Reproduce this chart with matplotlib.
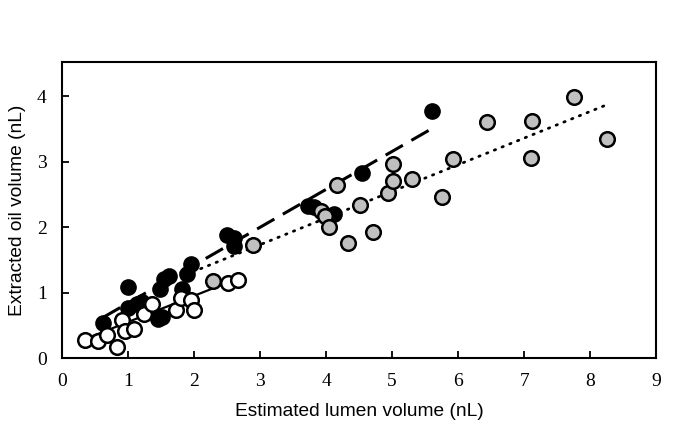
import numpy as np
import matplotlib
matplotlib.use("Agg")
import matplotlib.pyplot as plt

# black filled circles (dashed fit)
black_x = [0.62, 1.00, 1.00, 1.14, 1.21, 1.46, 1.52, 1.49, 1.55, 1.62, 1.82, 1.90, 1.96,
           2.50, 2.60, 2.60, 3.72, 3.82, 4.12, 4.55, 5.60]
black_y = [0.54, 1.08, 0.77, 0.83, 0.86, 0.60, 0.63, 1.06, 1.20, 1.26, 1.05, 1.29, 1.44,
           1.88, 1.83, 1.71, 2.32, 2.30, 2.20, 2.83, 3.78]

# open circles (solid fit)
open_x = [0.35, 0.55, 0.68, 0.83, 0.91, 0.95, 1.09, 1.24, 1.37, 1.72, 1.80, 1.95, 2.00,
          2.51, 2.66]
open_y = [0.28, 0.26, 0.35, 0.17, 0.58, 0.42, 0.44, 0.68, 0.83, 0.73, 0.91, 0.89, 0.73,
          1.14, 1.19]

# grey circles (dotted fit)
grey_x = [2.28, 2.89, 3.93, 3.98, 4.04, 4.16, 4.33, 4.51, 4.71, 4.93, 5.02, 5.02, 5.30,
          5.75, 5.92, 6.44, 7.10, 7.12, 7.76, 8.25]
grey_y = [1.17, 1.73, 2.24, 2.17, 2.00, 2.64, 1.75, 2.34, 1.93, 2.52, 2.96, 2.71, 2.74,
          2.46, 3.04, 3.61, 3.05, 3.62, 3.98, 3.34]

# regression lines: slope, intercept, x range
fit_black = (0.579, 0.26, 0.62, 5.60)
fit_open = (0.40, 0.15, 0.35, 2.66)
fit_grey = (0.407, 0.51, 2.10, 8.24)

fig = plt.figure(figsize=(6.85, 4.34), dpi=100)
ax = fig.add_axes([0.0905, 0.175, 0.8675, 0.682])

def fit_line(fit, **kw):
    m, b, x0, x1 = fit
    xs = np.array([x0, x1])
    ax.plot(xs, m * xs + b, color="black", zorder=1, **kw)

fit_line(fit_black, lw=2.2, dashes=(6.5, 3.2))
fit_line(fit_open, lw=1.6)
fit_line(fit_grey, lw=2.0, linestyle=(0, (0.5, 2.5)), dash_capstyle="round")

ms = 10.5
ax.plot(black_x, black_y, "o", ms=ms, mfc="black", mec="black", mew=1.5, zorder=2)
ax.plot(open_x, open_y, "o", ms=ms, mfc="white", mec="black", mew=1.8, zorder=3)
ax.plot(grey_x, grey_y, "o", ms=ms, mfc="#c0c0c0", mec="black", mew=1.8, zorder=4)

ax.set_xlim(0, 9)
ax.set_ylim(0, 4.52)
ax.set_xticks(range(0, 10))
ax.set_yticks(range(0, 5))
for s in ax.spines.values():
    s.set_linewidth(1.5)
ax.tick_params(direction="in", length=5, width=1.3, labelsize=14, pad=11)
for lab in ax.get_xticklabels() + ax.get_yticklabels():
    lab.set_family("Liberation Serif")

ax.set_xlabel("Estimated lumen volume (nL)", family="Liberation Sans", fontsize=13.8,
              labelpad=9)
ax.set_ylabel("Extracted oil volume (nL)", family="Liberation Sans", fontsize=13.8,
              labelpad=8)

fig.savefig("out.png", dpi=100)
